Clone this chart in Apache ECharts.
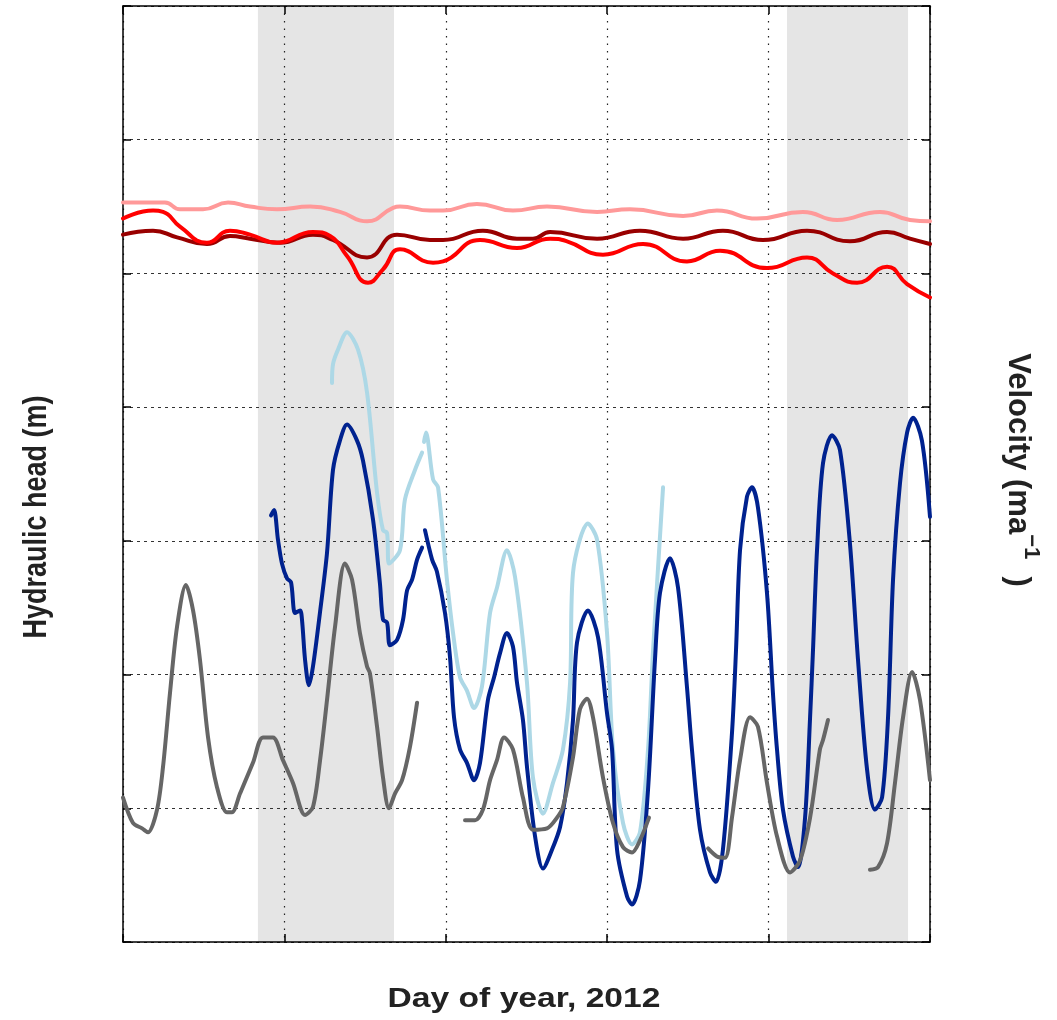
<!DOCTYPE html>
<html><head><meta charset="utf-8">
<script src="https://cdn.jsdelivr.net/npm/echarts@6/dist/echarts.min.js"></script>
<style>html,body{margin:0;padding:0;background:#fff}#c{width:1057px;height:1020px}</style>
</head><body><div id="c"></div>
<script>
// ---- axis ranges (no tick labels shown in the reference) ----
const xMin = 180, xMax = 230, xStep = 10;
const yMin = 0, yMax = 7, yStep = 1;

// ---- text ----
const xTitle = 'Day of year, 2012';
const yLeftTitle = 'Hydraulic head (m)';
const yRightMain = 'Velocity (ma';
const yRightSup = '\u22121';
const yRightEnd = ')';

// ---- shaded periods (day of year) ----
const shadeStart = [188.36, 221.14];
const shadeEnd   = [196.79, 228.64];

// ---- series: [day, value]; null = gap ----
const pinkSeries = [[180.00,5.53],[181.67,5.53],[182.60,5.53],[183.53,5.48],[184.96,5.48],[186.51,5.53],[187.87,5.50],[189.54,5.48],[191.59,5.50],[193.44,5.46],[195.12,5.39],[196.73,5.49],[197.16,5.50],[199.02,5.47],[199.83,5.47],[201.93,5.52],[204.16,5.47],[206.27,5.50],[209.37,5.46],[211.41,5.48],[214.70,5.43],[216.80,5.47],[219.28,5.41],[222.13,5.46],[224.24,5.40],[226.90,5.46],[228.76,5.40],[230.00,5.39]];

const darkRedSeries = [[180.00,5.29],[181.86,5.32],[183.35,5.27],[185.20,5.22],[186.63,5.28],[187.87,5.26],[189.73,5.23],[191.77,5.29],[193.01,5.25],[195.12,5.12],[196.98,5.29],[199.02,5.25],[199.83,5.25],[202.30,5.32],[204.41,5.26],[205.40,5.26],[206.46,5.31],[209.37,5.26],[212.03,5.32],[214.70,5.26],[217.17,5.32],[219.65,5.25],[222.38,5.32],[225.04,5.24],[227.34,5.31],[228.76,5.26],[230.00,5.22]];

const redSeries = [[180.00,5.41],[181.86,5.47],[182.48,5.46],[183.53,5.35],[185.20,5.23],[186.63,5.32],[187.87,5.29],[189.54,5.23],[191.77,5.31],[192.83,5.28],[193.88,5.13],[195.18,4.93],[196.11,5.03],[197.16,5.18],[199.21,5.08],[199.83,5.09],[202.12,5.25],[204.41,5.19],[206.46,5.26],[207.51,5.24],[209.74,5.14],[212.22,5.22],[214.94,5.09],[216.99,5.17],[219.90,5.04],[222.38,5.12],[223.99,5.00],[225.48,4.93],[227.34,5.05],[228.58,4.92],[230.00,4.82]];

const lightBlueSeries = [[192.95,4.18],[193.01,4.32],[193.32,4.43],[193.88,4.56],[194.56,4.43],[195.12,4.11],[195.74,3.36],[196.11,3.08],[196.36,3.06],[196.48,2.83],[197.16,2.93],[197.47,3.31],[198.09,3.53],[198.53,3.66],
  null,
  [198.65,3.74],[198.77,3.81],[199.21,3.46],[199.52,3.40],[200.07,2.71],[200.45,2.31],[200.88,1.98],[201.31,1.88],[201.75,1.75],[202.24,1.91],[202.74,2.46],[203.17,2.65],[203.79,2.93],[204.29,2.73],[205.03,1.94],[205.40,1.23],[206.02,0.96],[206.64,1.19],[207.26,1.44],[207.70,1.94],[207.88,2.76],[208.81,3.13],[209.37,3.01],[209.99,2.31],[210.36,1.44],[210.98,0.89],[211.54,0.73],[212.03,0.82],[212.53,1.44],[212.84,2.18],[213.46,3.40]];

const darkBlueSeries = [[189.17,3.19],[189.36,3.23],[189.60,3.01],[189.85,2.83],[190.16,2.72],[190.41,2.69],[190.66,2.46],[190.97,2.48],[191.09,2.41],[191.28,2.11],[191.52,1.92],[191.77,2.06],[192.21,2.47],[192.64,2.91],[193.01,3.53],[193.44,3.75],[193.88,3.87],[194.50,3.75],[194.87,3.60],[195.49,3.16],[195.92,2.68],[196.11,2.41],[196.36,2.39],[196.54,2.22],[196.98,2.26],[197.35,2.41],[197.60,2.63],[197.91,2.71],[198.22,2.86],[198.53,2.95],
  null,
  [198.71,3.08],[199.15,2.86],[199.45,2.77],[199.95,2.46],[200.26,2.13],[200.51,1.68],[200.88,1.44],[201.31,1.34],[201.75,1.21],[202.12,1.34],[202.61,1.81],[202.99,1.98],[203.36,2.16],[203.79,2.31],[204.16,2.21],[204.41,1.94],[204.78,1.66],[205.03,1.31],[205.53,0.79],[206.02,0.55],[206.58,0.69],[207.08,0.86],[207.51,1.19],[207.88,1.66],[208.13,2.24],[208.81,2.48],[209.43,2.28],[209.99,1.71],[210.30,1.44],[210.61,0.69],[211.23,0.34],[211.54,0.28],[212.03,0.46],[212.53,1.14],[212.96,2.11],[213.27,2.61],[213.89,2.87],[214.39,2.65],[214.94,1.91],[215.25,1.44],[215.75,0.84],[216.37,0.52],[216.74,0.45],[217.17,0.69],[217.73,1.56],[217.98,2.18],[218.23,2.93],[218.66,3.33],[218.97,3.40],[219.34,3.25],[219.90,2.61],[220.27,1.86],[220.52,1.44],[220.89,0.99],[221.51,0.64],[221.82,0.56],[222.26,0.93],[222.57,1.68],[222.75,2.18],[223.00,2.93],[223.37,3.58],[223.93,3.79],[224.42,3.68],[225.04,2.98],[225.54,2.11],[226.10,1.29],[226.59,0.99],[227.03,1.08],[227.40,1.68],[227.71,2.71],[228.14,3.43],[228.58,3.81],[228.95,3.92],[229.50,3.75],[230.00,3.18]];

const greySeries = [[180.00,1.08],[180.62,0.89],[181.18,0.85],[181.55,0.82],[182.11,0.99],[182.48,1.31],[182.91,1.86],[183.35,2.36],[183.90,2.67],[184.34,2.48],[184.77,2.11],[185.27,1.53],[185.82,1.16],[186.44,0.97],[186.75,0.97],[187.25,1.11],[188.05,1.34],[188.67,1.53],[189.29,1.53],[189.91,1.36],[190.53,1.19],[191.28,0.95],[191.77,1.01],[192.21,1.36],[192.64,1.81],[193.14,2.36],[193.75,2.83],[194.19,2.71],[194.68,2.31],[195.12,2.06],[195.30,2.01],[195.74,1.61],[196.11,1.23],[196.48,1.00],[196.85,1.11],[197.29,1.21],[197.78,1.46],[198.22,1.79],
  null,
  [201.19,0.91],[201.81,0.91],[202.30,0.99],[202.74,1.21],[203.17,1.36],[203.61,1.53],[204.16,1.44],[204.78,1.08],[205.40,0.84],[206.27,0.85],[206.89,0.93],[207.26,1.01],[207.88,1.38],[208.31,1.74],[208.75,1.82],[209.12,1.68],[209.74,1.23],[210.36,0.89],[210.98,0.71],[211.54,0.67],[212.03,0.76],[212.59,0.93],
  null,
  [216.25,0.70],[216.80,0.64],[217.30,0.63],[217.73,0.93],[218.23,1.36],[218.85,1.68],[219.34,1.61],[219.90,1.19],[220.52,0.79],[221.33,0.52],[221.95,0.61],[222.57,0.93],[223.18,1.44],[223.37,1.51],[223.68,1.66],
  null,
  [226.28,0.54],[226.78,0.56],[227.34,0.74],[227.83,1.19],[228.33,1.68],[228.89,2.02],[229.38,1.81],[230.00,1.21]];

// ---- build ----
function segments(arr) {
  const out = []; let cur = [];
  arr.forEach(p => { if (p === null) { if (cur.length) out.push(cur); cur = []; } else cur.push(p); });
  if (cur.length) out.push(cur);
  return out;
}
const seriesDefs = [
  {name: 'light blue', data: lightBlueSeries, color: '#add8e6', axis: 0, width: 4, smooth: 0.3},
  {name: 'dark blue', data: darkBlueSeries, color: '#00228f', axis: 0, width: 4, smooth: 0.3},
  {name: 'grey', data: greySeries, color: '#666666', axis: 0, width: 4, smooth: 0.3},
  {name: 'pink', data: pinkSeries, color: '#ff9999', axis: 1, width: 4, smooth: 0.5},
  {name: 'dark red', data: darkRedSeries, color: '#990000', axis: 1, width: 4, smooth: 0.5},
  {name: 'red', data: redSeries, color: '#ff0000', axis: 1, width: 4, smooth: 0.5}
];
const series = [{
  type: 'custom', z: -1, silent: true, xAxisIndex: 0, yAxisIndex: 0,
  data: shadeStart.map((s, i) => [s, shadeEnd[i]]),
  renderItem: function (params, api) {
    const p0 = api.coord([api.value(0), yMax]);
    const p1 = api.coord([api.value(1), yMin]);
    return {type: 'rect', shape: {x: p0[0], y: p0[1], width: p1[0] - p0[0], height: p1[1] - p0[1]}, style: {fill: '#e5e5e5'}};
  }
}];
seriesDefs.forEach(d => {
  segments(d.data).forEach(seg => {
    series.push({
      type: 'line', name: d.name, data: seg, xAxisIndex: 0, yAxisIndex: d.axis,
      showSymbol: false, symbol: 'none', animation: false, z: 3, smooth: d.smooth,
      lineStyle: {color: d.color, width: d.width, cap: 'round', join: 'round'}
    });
  });
});

const frame = {show: true, onZero: false, lineStyle: {color: '#000', width: 1.5}};
const tick = {show: true, inside: true, length: 8, lineStyle: {color: '#000', width: 1.5}};
const font = 'Liberation Sans, Arial, sans-serif';
const chart = echarts.init(document.getElementById('c'), null, {renderer: 'canvas'});
chart.setOption({
  animation: false,
  backgroundColor: '#fff',
  grid: {left: 123, right: 127, top: 6, bottom: 78, containLabel: false},
  xAxis: [
    {type: 'value', position: 'bottom', min: xMin, max: xMax, interval: xStep,
     axisLine: frame, axisTick: tick, axisLabel: {show: false},
     splitLine: {show: true, lineStyle: {color: '#222', width: 1.2, type: [1.5, 6]}}},
    {type: 'value', position: 'top', min: xMin, max: xMax, interval: xStep,
     axisLine: frame, axisTick: tick, axisLabel: {show: false}, splitLine: {show: false}}
  ],
  yAxis: [
    {type: 'value', position: 'left', min: yMin, max: yMax, interval: yStep,
     axisLine: frame, axisTick: tick, axisLabel: {show: false},
     splitLine: {show: true, lineStyle: {color: '#333', width: 1.2, type: [3, 4]}}},
    {type: 'value', position: 'right', min: yMin, max: yMax, interval: yStep,
     axisLine: frame, axisTick: tick, axisLabel: {show: false}, splitLine: {show: false}}
  ],
  graphic: [
    {type: 'text', x: 524, y: 1000, scaleX: 1.245, silent: true,
     style: {text: xTitle, fontSize: 27, fontWeight: 'bold', fontFamily: font, fill: '#222', align: 'center', verticalAlign: 'middle'}},
    {type: 'text', x: 37, y: 517, rotation: Math.PI / 2, scaleY: 1.245, silent: true,
     style: {text: yLeftTitle, fontSize: 27, fontWeight: 'bold', fontFamily: font, fill: '#222', align: 'center', verticalAlign: 'middle'}},
    {type: 'text', x: 1022, y: 470, rotation: -Math.PI / 2, silent: true,
     style: {text: '{a|' + yRightMain + '}{s|' + yRightSup + '}{a|  ' + yRightEnd + '}', align: 'center', verticalAlign: 'middle',
       rich: {
         a: {fontSize: 31, fontWeight: 'bold', fontFamily: font, fill: '#222', verticalAlign: 'bottom', lineHeight: 40},
         s: {fontSize: 22, fontWeight: 'bold', fontFamily: font, fill: '#222', verticalAlign: 'top', lineHeight: 40}
       }}}
  ],
  series: series
});
</script></body></html>
